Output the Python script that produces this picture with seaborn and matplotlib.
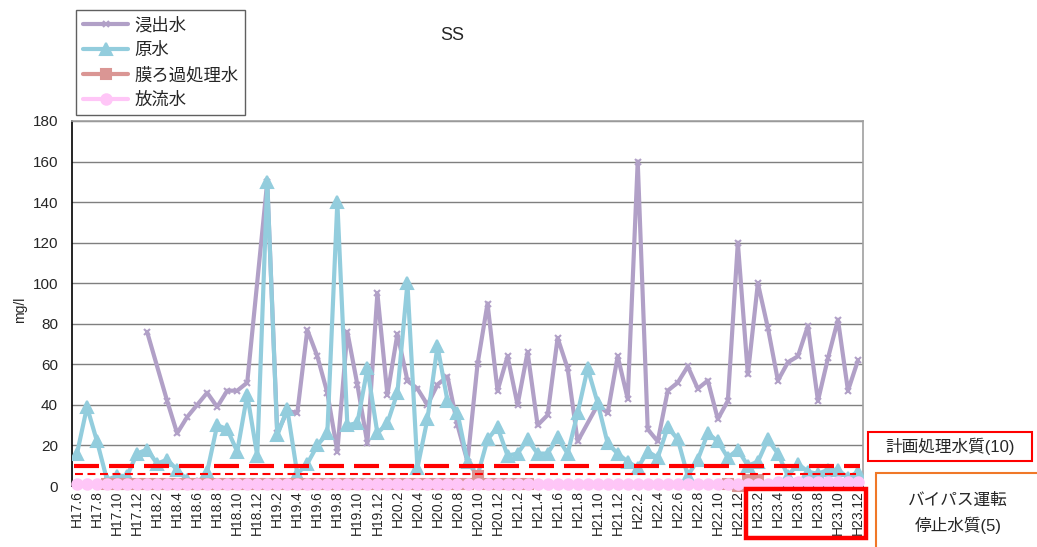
import numpy as np
import pandas as pd
import matplotlib
matplotlib.use("Agg")
import matplotlib.pyplot as plt
import matplotlib.patches as mpatches
from matplotlib.lines import Line2D
import seaborn as sns

nan = np.nan

# months H17.6 .. H23.12
months = [f"H{y}.{m}" for y in range(17, 24) for m in range(1, 13)][5:]

leachate = [nan, nan, nan, nan, nan, nan, nan, 76, nan, 42,
            26, 34, 40, 46, 39, 47, 47, 51, nan, 150,
            26, 37, 36, 77, 64, 46, 17, 76, 50, 21,
            95, 45, 75, 52, 48, 40, 50, 54, 30, 12,
            60, 90, 47, 64, 40, 66, 30, 35, 73, 58,
            22, nan, 40, 36, 64, 43, 160, 28, 22, 47,
            51, 59, 48, 52, 33, 42, 120, 55, 100, 78,
            52, 61, 64, 79, 42, 63, 82, 47, 62]

raw = [16, 39, 22, 3, 5, 5, 16, 18, 11, 13,
       8, 3, 1, 7, 30, 28, 17, 45, 15, 150,
       25, 38, 6, 11, 20, 26, 140, 30, 31, 58,
       26, 31, 46, 100, 9, 33, 69, 42, 36, 12,
       5, 23, 29, 15, 16, 23, 16, 16, 24, 16,
       36, 58, 41, 21, 16, 12, 9, 17, 14, 29,
       23, 5, 13, 26, 22, 14, 18, 10, 12, 23,
       16, 5, 11, 7, 6, 8, 8, 4, 7]

membrane = ([nan] * 3 + [1] * 37 + [5] + [1] * 5 + [nan] * 19
            + [1, 0, 3, 3] + [nan] * 10)

discharge = [1] * 70 + [2] * 9

series_names = ["浸出水", "原水", "膜ろ過処理水", "放流水"]
series_values = [leachate, raw, membrane, discharge]

plan_quality = 10
bypass_quality = 5

sns.set_theme(style="white")
plt.rcParams["font.family"] = ["Liberation Sans", "Noto Sans CJK JP", "DejaVu Sans"]

colors = ["#B1A0C7", "#93CDDD", "#DA9694", "#FFC6F7"]
markers = ["x", "^", "s", "o"]
msizes = [5, 8, 6.5, 7.5]

rows = []
for name, vals in zip(series_names, series_values):
    for i, v in enumerate(vals):
        rows.append({"idx": i, "month": months[i], "series": name, "value": v})
df = pd.DataFrame(rows).dropna()

fig = plt.figure(figsize=(10.37, 5.47), dpi=100)
ax = fig.add_axes([72 / 1037, 1 - 486 / 547, (863 - 72) / 1037, (486 - 121) / 547])

for k, name in enumerate(series_names):
    sub = df[df["series"] == name]
    sns.lineplot(data=sub, x="idx", y="value", ax=ax, color=colors[k],
                 marker=markers[k], markersize=msizes[k], markeredgecolor=colors[k],
                 markerfacecolor=colors[k], markeredgewidth=1.5, lw=3,
                 zorder=3 + k, legend=False, clip_on=(k < 2))

ax.hlines(plan_quality, -0.35, 78.2, colors="#FF0000", lw=3,
          linestyles=(0, (6, 2.4)), zorder=10)
ax.hlines(bypass_quality + 0.8, -0.2, 77.8, colors="#FF0000", lw=1.5,
          linestyles=(0, (3.8, 2.2)), zorder=10)

ax.set_xlim(-0.5, 78.5)
ax.set_ylim(0, 180)
ax.set_yticks(range(0, 181, 20))
ax.set_xticks(range(0, 79, 2))
ax.set_xticklabels(months[::2], rotation=90, fontsize=10)
ax.tick_params(axis="y", labelsize=11, length=0, pad=10)
ax.tick_params(axis="x", length=0, pad=3)
ax.set_xlabel("")
ax.set_ylabel("")
ax.grid(axis="y", color="#7F7F7F", lw=1)
ax.set_axisbelow(True)
for s in ["top", "right"]:
    ax.spines[s].set_color("#A0A0A0")
    ax.spines[s].set_linewidth(1.2)
for s in ["left", "bottom"]:
    ax.spines[s].set_color("black")
    ax.spines[s].set_linewidth(1.2)

fig.text(452 / 1037, 1 - 35 / 547, "SS", ha="center", va="center", fontsize=13)
fig.text(20 / 1037, 1 - 310 / 547, "mg/l", ha="center", va="center",
         rotation=90, fontsize=10)

handles = [Line2D([0], [0], color=colors[k], lw=3, marker=markers[k],
                  markersize=msizes[k], markeredgecolor=colors[k],
                  markerfacecolor=colors[k], markeredgewidth=1.5)
           for k in range(4)]
leg = fig.legend(handles, series_names, loc="upper left",
                 bbox_to_anchor=(76 / 1037, 1 - 10 / 547), borderaxespad=0,
                 fontsize=12.5, handlelength=2.6, handletextpad=0.35,
                 labelspacing=0.5, borderpad=0.4, frameon=True,
                 fancybox=False, framealpha=1)
leg.get_frame().set_edgecolor("#606060")
leg.get_frame().set_linewidth(1)

# annotation boxes
fig.patches.append(mpatches.Rectangle((868 / 1037, 1 - 461 / 547), 164 / 1037, 29 / 547,
                                      transform=fig.transFigure, fill=False,
                                      ec="#FF0000", lw=1.5))
fig.text(950 / 1037, 1 - 446 / 547, "計画処理水質(10)", ha="center", va="center",
         fontsize=12)
fig.patches.append(mpatches.Rectangle((876 / 1037, -0.1), 0.3, 1 - 473 / 547 + 0.1,
                                      transform=fig.transFigure, fill=False,
                                      ec="#F07828", lw=1.5))
fig.text(958 / 1037, 1 - 500 / 547, "バイパス運転", ha="center", va="center",
         fontsize=12)
fig.text(958 / 1037, 1 - 525 / 547, "停止水質(5)", ha="center", va="center",
         fontsize=12)
fig.patches.append(mpatches.Rectangle((746 / 1037, 1 - 538 / 547), 120 / 1037, 49 / 547,
                                      transform=fig.transFigure, fill=False,
                                      ec="#FF0000", lw=3.2, zorder=20))

fig.savefig("out.png", dpi=100)
